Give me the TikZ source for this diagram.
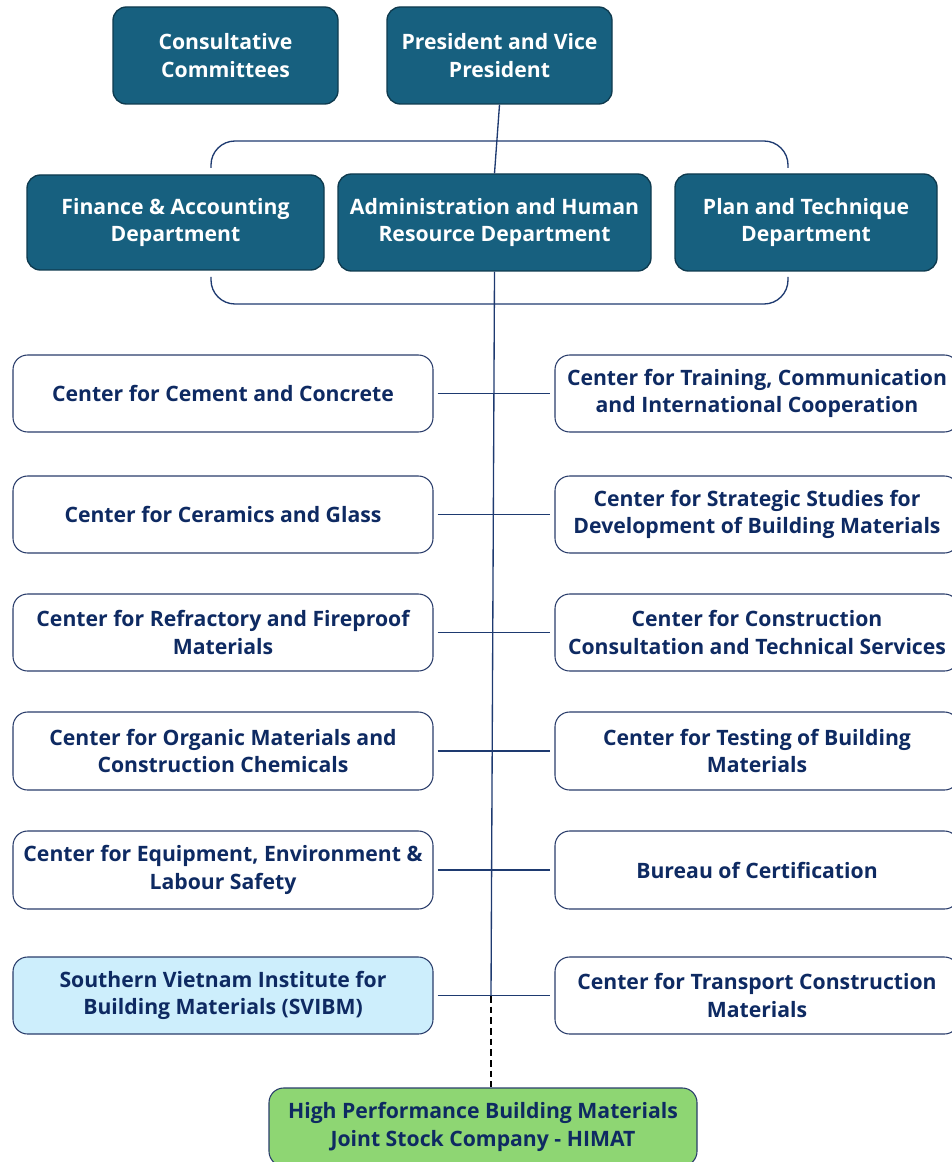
\documentclass[tikz,border=0pt]{standalone}
\usepackage{fontspec}
\setmainfont{Open Sans}
\definecolor{teal1}{HTML}{17607F}
\definecolor{tealdark}{HTML}{0E3A4E}
\definecolor{navy}{HTML}{0E2A62}
\definecolor{edge}{HTML}{2A3D6B}
\definecolor{line}{HTML}{1E3A70}
\definecolor{lightblue}{HTML}{CDEEFC}
\definecolor{green1}{HTML}{8ED673}
\begin{document}
\begin{tikzpicture}[x=0.75pt,y=-0.75pt,
  topbox/.style args={#1/#2}{draw=tealdark, line width=1pt, fill=teal1, rounded corners=10pt,
    minimum width=#1*0.75pt, minimum height=#2*0.75pt, text=white, align=center,
    font=\bfseries\fontsize{15.9}{20.5}\selectfont, inner sep=0pt},
  unit/.style args={#1/#2}{draw=edge, line width=0.8pt, fill=white, rounded corners=11pt,
    minimum width=#1*0.75pt, minimum height=#2*0.75pt, text=navy, align=center,
    font=\bfseries\fontsize{15.9}{20.5}\selectfont, inner sep=0pt},
  conn/.style={draw=line, line width=1pt},
  bracket/.style={draw=line, line width=1pt, rounded corners=18pt}
]
\useasboundingbox (0,0) rectangle (951,1162);

% top row
\node[topbox=225/97] (cons) at (225.5,55.5) {Consultative\\Committees};
\node[topbox=225/97] (pres) at (499.5,55.5) {President and Vice\\President};

% brackets
\draw[bracket] (211,168) -- (211,141) -- (788,141) -- (788,168);
\draw[bracket] (211,277) -- (211,304) -- (788,304) -- (788,277);

% departments
\node[topbox=297/95] (fin) at (175.5,222.5) {Finance \& Accounting\\Department};
\node[topbox=313/97] (adm) at (494.5,222.5) {Administration and Human\\Resource Department};
\node[topbox=262/97] (plan) at (806,222.5) {Plan and Technique\\Department};

% left units
\node[unit=420/77] (l1) at (223,393.5) {Center for Cement and Concrete};
\node[unit=420/77] (l2) at (223,514.5) {Center for Ceramics and Glass};
\node[unit=420/77] (l3) at (223,632.5) {Center for Refractory and Fireproof\\Materials};
\node[unit=420/78] (l4) at (223,751) {Center for Organic Materials and\\Construction Chemicals};
\node[unit=420/78] (l5) at (223,870) {Center for Equipment, Environment \&\\Labour Safety};
\node[unit=420/77, fill=lightblue] (l6) at (223,995.5) {Southern Vietnam Institute for\\Building Materials (SVIBM)};

% right units
\node[unit=404/77] (r1) at (757,393.5) {Center for Training, Communication\\and International Cooperation};
\node[unit=404/77] (r2) at (757,514.5) {Center for Strategic Studies for\\Development of Building Materials};
\node[unit=404/77] (r3) at (757,632.5) {Center for Construction\\Consultation and Technical Services};
\node[unit=404/78] (r4) at (757,751) {Center for Testing of Building\\Materials};
\node[unit=404/78] (r5) at (757,870) {Bureau of Certification};
\node[unit=404/77] (r6) at (757,995.5) {Center for Transport Construction\\Materials};

% HIMAT
\node[unit=428/78, fill=green1] (himat) at (483,1127) {High Performance Building Materials\\Joint Stock Company - HIMAT};

% connectors
\draw[conn] (pres.south) -- (adm.north);
\coordinate (j6) at (491,996);
\draw[conn] (adm.south) -- (j6);
\draw[black, line width=1pt, dashed, dash pattern=on 5pt off 3pt] (j6) -- (j6 |- himat.north);
\foreach \i in {1,...,6} {
  \draw[conn, shorten <=3pt, shorten >=3pt] (l\i.east) -- (r\i.west);
}
\end{tikzpicture}
\end{document}
